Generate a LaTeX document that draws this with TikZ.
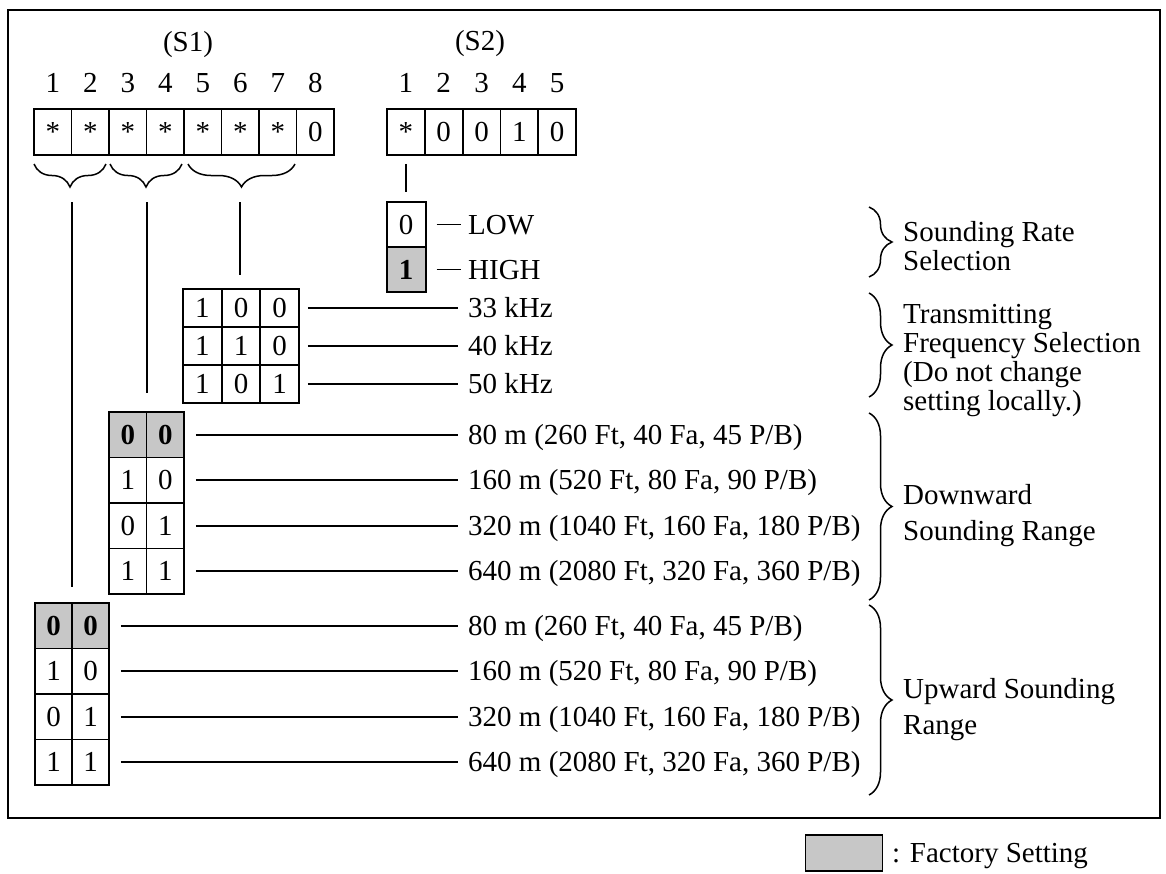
\documentclass[tikz,border=0pt]{standalone}
\usepackage{fontspec}
\setmainfont{Liberation Serif}
\usetikzlibrary{decorations.pathreplacing}
\begin{document}
\begin{tikzpicture}[x=1pt,y=-1pt,
  fnt/.style={font=\fontsize{29}{30}\selectfont},
  cell/.style={draw, line width=1.8pt, inner sep=0pt, fnt},
  fact/.style={cell, fill=black!22, font=\fontsize{29}{30}\selectfont\bfseries},
  s1cell/.style={cell, minimum width=37.5pt, minimum height=46pt},
  s2cell/.style={cell, minimum width=37.8pt, minimum height=46pt},
  fcell/.style={minimum width=38.67pt, minimum height=38pt},
  dcell/.style={minimum width=37.5pt, minimum height=45.5pt},
  ucell/.style={minimum width=37pt, minimum height=45.5pt},
  lab/.style={fnt, anchor=west, inner xsep=10pt, inner ysep=0pt, text height=19.2pt, text depth=0pt},
  lead/.style={line width=1.7pt, shorten <=11pt},
  brc/.style={decorate, decoration={brace, amplitude=23pt}, line width=1.5pt},
  rtext/.style={anchor=west, inner sep=0pt, align=left, font=\fontsize{29}{29}\selectfont},
  rtextb/.style={anchor=west, inner sep=0pt, align=left, font=\fontsize{29}{36}\selectfont}]
\useasboundingbox (0,0) rectangle (1166,873);
% frame
\draw[line width=2.8pt] (8,10) rectangle (1160,818);
% S1
\node[fnt] (s1lab) at (188,45) {(S1)};
\foreach \v [count=\i] in {*,*,*,*,*,*,*,0} {
  \node[s1cell] (sa\i) at ({34+37.5*(\i-0.5)},132) {\v};
  \node[fnt, inner sep=0pt] (na\i) at ({34+37.5*(\i-0.5)},83) {\i};
}
% S2
\node[fnt] (s2lab) at (480,44) {(S2)};
\foreach \v [count=\i] in {*,0,0,1,0} {
  \node[s2cell] (sb\i) at ({387+37.8*(\i-0.5)},132) {\v};
  \node[fnt, inner sep=0pt] (nb\i) at ({387+37.8*(\i-0.5)},83) {\i};
}
% braces under S1
\draw[brc] (106,164) -- (34,164);
\draw[brc] (182,164) -- (110,164);
\draw[brc] (295,164) -- (188,164);
\coordinate (v1s) at (72,202);  \coordinate (v1e) at (72,587);
\coordinate (v2s) at (147,202); \coordinate (v2e) at (147,393);
\coordinate (v3s) at (240,202); \coordinate (v3e) at (240,275);
\draw[line width=1.6pt] (v1s) -- (v1e);
\draw[line width=1.6pt] (v2s) -- (v2e);
\draw[line width=1.6pt] (v3s) -- (v3e);
% Sounding rate
\node[cell, minimum width=39pt, minimum height=45pt] (r0) at (406.2,224.5) {0};
\node[fact, minimum width=39pt, minimum height=45pt] (r1) at (406.2,269.5) {1};
\draw[line width=1.6pt, shorten <=8pt, shorten >=9pt] (sb1.south) -- (sb1.south |- r0.north);
\node[lab, inner xsep=7pt] (low) at (461,224.5) {LOW};
\node[lab, inner xsep=7pt] (high) at (461,269.5) {HIGH};
\draw[lead, shorten <=10pt] (r0.east) -- (low.west);
\draw[lead, shorten <=10pt] (r1.east) -- (high.west);
% Frequency
\node[cell, fcell] (f11) at (202.3,308) {1};
\node[cell, fcell] (f12) at (241,308) {0};
\node[cell, fcell] (f13) at (279.7,308) {0};
\node[cell, fcell] (f21) at (202.3,346) {1};
\node[cell, fcell] (f22) at (241,346) {1};
\node[cell, fcell] (f23) at (279.7,346) {0};
\node[cell, fcell] (f31) at (202.3,384) {1};
\node[cell, fcell] (f32) at (241,384) {0};
\node[cell, fcell] (f33) at (279.7,384) {1};
\node[lab] (ft1) at (458,308) {33 kHz};
\node[lab] (ft2) at (458,346) {40 kHz};
\node[lab] (ft3) at (458,384) {50 kHz};
\draw[lead, shorten <=8pt] (f13.east) -- (ft1.west);
\draw[lead, shorten <=8pt] (f23.east) -- (ft2.west);
\draw[lead, shorten <=8pt] (f33.east) -- (ft3.west);
% Downward
\node[fact, dcell] (d11) at (127.75,434.75) {0};
\node[fact, dcell] (d12) at (165.25,434.75) {0};
\node[cell, dcell] (d21) at (127.75,480.25) {1};
\node[cell, dcell] (d22) at (165.25,480.25) {0};
\node[cell, dcell] (d31) at (127.75,525.75) {0};
\node[cell, dcell] (d32) at (165.25,525.75) {1};
\node[cell, dcell] (d41) at (127.75,571.25) {1};
\node[cell, dcell] (d42) at (165.25,571.25) {1};
\node[lab] (dt1) at (458,434.75) {80 m (260 Ft, 40 Fa, 45 P/B)};
\node[lab] (dt2) at (458,480.25) {160 m (520 Ft, 80 Fa, 90 P/B)};
\node[lab] (dt3) at (458,525.75) {320 m (1040 Ft, 160 Fa, 180 P/B)};
\node[lab] (dt4) at (458,571.25) {640 m (2080 Ft, 320 Fa, 360 P/B)};
\draw[lead] (d12.east) -- (dt1.west);
\draw[lead] (d22.east) -- (dt2.west);
\draw[lead] (d32.east) -- (dt3.west);
\draw[lead] (d42.east) -- (dt4.west);
% Upward
\node[fact, ucell] (u11) at (53.5,625.75) {0};
\node[fact, ucell] (u12) at (90.5,625.75) {0};
\node[cell, ucell] (u21) at (53.5,671.25) {1};
\node[cell, ucell] (u22) at (90.5,671.25) {0};
\node[cell, ucell] (u31) at (53.5,716.75) {0};
\node[cell, ucell] (u32) at (90.5,716.75) {1};
\node[cell, ucell] (u41) at (53.5,762.25) {1};
\node[cell, ucell] (u42) at (90.5,762.25) {1};
\node[lab] (ut1) at (458,625.75) {80 m (260 Ft, 40 Fa, 45 P/B)};
\node[lab] (ut2) at (458,671.25) {160 m (520 Ft, 80 Fa, 90 P/B)};
\node[lab] (ut3) at (458,716.75) {320 m (1040 Ft, 160 Fa, 180 P/B)};
\node[lab] (ut4) at (458,762.25) {640 m (2080 Ft, 320 Fa, 360 P/B)};
\draw[lead] (u12.east) -- (ut1.west);
\draw[lead] (u22.east) -- (ut2.west);
\draw[lead] (u32.east) -- (ut3.west);
\draw[lead] (u42.east) -- (ut4.west);
% right braces and labels
\draw[brc] (869,207) -- (869,277);
\draw[brc] (869,293) -- (869,397);
\draw[brc] (869,413) -- (869,600);
\draw[brc] (869,605) -- (869,795);
\node[rtext] (srt) at (903,246) {Sounding Rate\\Selection};
\node[rtext] (tft) at (903,361) {Transmitting\\Frequency Selection\\(Do not change\\setting locally.)};
\node[rtextb] (drt) at (903,516) {Downward\\Sounding Range};
\node[rtextb] (urt) at (903,710) {Upward Sounding\\Range};
% legend
\node[draw, fill=black!22, line width=1.2pt, minimum width=77pt, minimum height=36pt, inner sep=0pt] (leg) at (844,853) {};
\node[lab, inner xsep=0pt] (legt) at (892,853) {: Factory Setting};
\end{tikzpicture}
\end{document}
